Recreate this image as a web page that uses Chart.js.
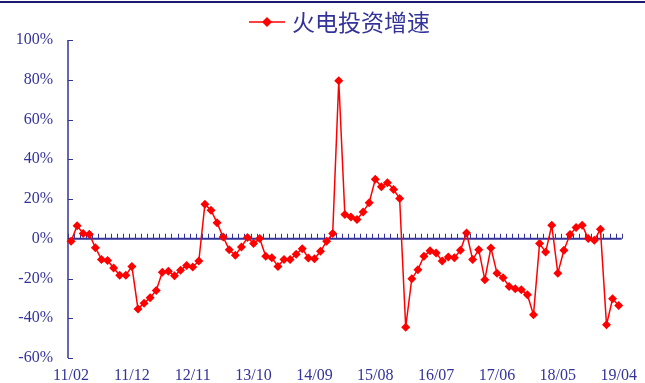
<!DOCTYPE html>
<html>
<head>
<meta charset="utf-8">
<script src="https://cdn.jsdelivr.net/npm/chart.js@4/dist/chart.umd.min.js"></script>
<style>
  html, body { margin: 0; padding: 0; background: #ffffff; }
  #wrap { width: 645px; height: 383px; position: relative; }
</style>
</head>
<body>
<div id="wrap"><canvas id="c" width="645" height="383"></canvas></div>
<script>
// Monthly periods (Jan and Feb are reported together, so each year starts at /02)
const months = [
  '11/02','11/03','11/04','11/05','11/06','11/07','11/08','11/09','11/10','11/11','11/12',
  '12/02','12/03','12/04','12/05','12/06','12/07','12/08','12/09','12/10','12/11','12/12',
  '13/02','13/03','13/04','13/05','13/06','13/07','13/08','13/09','13/10','13/11','13/12',
  '14/02','14/03','14/04','14/05','14/06','14/07','14/08','14/09','14/10','14/11','14/12',
  '15/02','15/03','15/04','15/05','15/06','15/07','15/08','15/09','15/10','15/11','15/12',
  '16/02','16/03','16/04','16/05','16/06','16/07','16/08','16/09','16/10','16/11','16/12',
  '17/02','17/03','17/04','17/05','17/06','17/07','17/08','17/09','17/10','17/11','17/12',
  '18/02','18/03','18/04','18/05','18/06','18/07','18/08','18/09','18/10','18/11','18/12',
  '19/02','19/03','19/04'
];

// Thermal power investment growth, %
const thermalInvestGrowth = [
  -1.3, 6.5, 2.6, 2.3, -4.5, -10.4, -10.9, -14.7, -18.4, -18.4, -13.9,
  -35.3, -32.4, -29.7, -26.0, -16.8, -16.3, -18.6, -15.8, -13.4, -14.2, -11.2,
  17.4, 14.4, 8.0, 0.9, -5.5, -8.3, -4.1, 0.6, -2.4, 0.1, -8.8,
  -9.5, -13.9, -10.5, -10.5, -7.8, -5.0, -9.7, -10.0, -6.3, -1.3, 2.6,
  79.5, 12.2, 11.0, 9.7, 13.5, 18.1, 29.9, 26.2, 28.2, 24.8, 20.3,
  -44.5, -20.1, -15.6, -8.8, -6.1, -7.2, -11.2, -9.2, -9.5, -5.8, 2.9,
  -10.5, -5.5, -20.6, -4.6, -17.3, -19.6, -24.0, -25.2, -25.7, -28.2, -38.3,
  -2.4, -6.7, 6.8, -17.3, -5.8, 2.1, 5.6, 6.8, 0.1, -0.8, 4.8,
  -43.3, -30.2, -33.6
];

const seriesName = '火电投资增速';
const yMin = -60, yMax = 100, yStep = 20;
const labelEvery = 10;

const axisBlue = '#333399';
const lineRed = '#ff0000';
const tickFont = { family: '"Liberation Serif", "Times New Roman", serif', size: 16 };

// Axis lines with inward ticks, the zero baseline with its category ticks,
// the legend entry and the frame line along the top.
const chartDecor = {
  id: 'chartDecor',
  beforeDatasetsDraw(chart) {
    const { ctx, chartArea: a, scales: { x, y } } = chart;
    ctx.save();
    ctx.strokeStyle = axisBlue;

    ctx.lineWidth = 1.5;
    ctx.beginPath();
    ctx.moveTo(a.left, y.getPixelForValue(yMax));
    ctx.lineTo(a.left, y.getPixelForValue(yMin));
    ctx.stroke();

    ctx.lineWidth = 1;
    y.ticks.forEach(t => {
      const py = Math.round(y.getPixelForValue(t.value)) + 0.5;
      ctx.beginPath();
      ctx.moveTo(a.left, py);
      ctx.lineTo(a.left + 5, py);
      ctx.stroke();
    });

    const z = y.getPixelForValue(0);
    ctx.lineWidth = 1.8;
    ctx.beginPath();
    ctx.moveTo(a.left, z);
    ctx.lineTo(a.right, z);
    ctx.stroke();

    ctx.lineWidth = 1;
    const step = x.getPixelForValue(1) - x.getPixelForValue(0);
    const start = x.getPixelForValue(0) - step / 2;
    for (let i = 0; i <= months.length; i++) {
      const px = Math.round(start + i * step) + 0.5;
      ctx.beginPath();
      ctx.moveTo(px, z);
      ctx.lineTo(px, z - 5);
      ctx.stroke();
    }
    ctx.restore();
  },
  afterDraw(chart) {
    const { ctx } = chart;
    ctx.save();
    // frame line across the top
    ctx.fillStyle = '#1a1a70';
    ctx.fillRect(0, 1, chart.width, 2);

    // legend: line with diamond marker, then the series name
    const ly = 22;
    ctx.strokeStyle = lineRed;
    ctx.lineWidth = 1.5;
    ctx.beginPath();
    ctx.moveTo(249, ly);
    ctx.lineTo(285, ly);
    ctx.stroke();
    ctx.fillStyle = lineRed;
    ctx.beginPath();
    ctx.moveTo(267, ly - 5);
    ctx.lineTo(272, ly);
    ctx.lineTo(267, ly + 5);
    ctx.lineTo(262, ly);
    ctx.closePath();
    ctx.fill();

    ctx.fillStyle = axisBlue;
    ctx.font = '23px "Noto Sans CJK SC", sans-serif';
    ctx.textBaseline = 'middle';
    ctx.textAlign = 'left';
    ctx.fillText(seriesName, 292, ly);
    ctx.restore();
  }
};

new Chart(document.getElementById('c'), {
  type: 'line',
  data: {
    labels: months,
    datasets: [{
      label: seriesName,
      data: thermalInvestGrowth,
      borderColor: lineRed,
      backgroundColor: lineRed,
      borderWidth: 1.5,
      pointStyle: 'rectRot',
      pointRadius: 4.5,
      pointBorderWidth: 0,
      pointBackgroundColor: lineRed,
      tension: 0
    }]
  },
  options: {
    responsive: false,
    devicePixelRatio: 1,
    animation: false,
    events: [],
    layout: { padding: { top: 40, right: 19, bottom: 0, left: 0 } },
    plugins: {
      legend: { display: false },
      title: { display: false },
      tooltip: { enabled: false }
    },
    scales: {
      x: {
        type: 'category',
        offset: true,
        grid: { display: false, drawTicks: false },
        border: { display: false },
        ticks: {
          autoSkip: false,
          maxRotation: 0,
          minRotation: 0,
          padding: 8,
          color: axisBlue,
          font: tickFont,
          callback: (v, i) => (i % labelEvery === 0 ? months[i] : '')
        },
        afterFit: s => { s.height = 25; }
      },
      y: {
        min: yMin,
        max: yMax,
        grid: { display: false, drawTicks: false },
        border: { display: false },
        ticks: {
          stepSize: yStep,
          padding: 15,
          color: axisBlue,
          font: tickFont,
          callback: v => v + '%'
        },
        afterFit: s => { s.width = 68; }
      }
    }
  },
  plugins: [chartDecor]
});
</script>
</body>
</html>
